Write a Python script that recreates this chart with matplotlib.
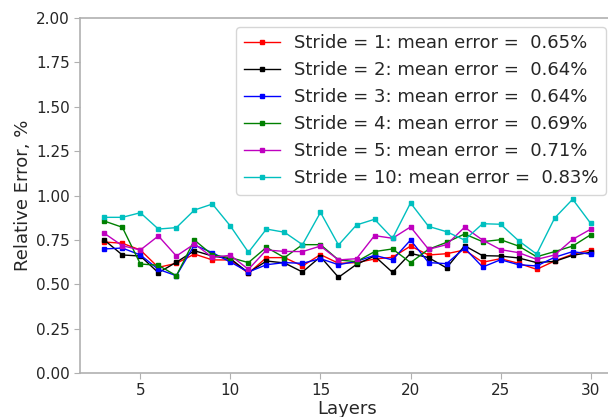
import numpy as np
import matplotlib
matplotlib.use("Agg")
import matplotlib.pyplot as plt

layers = list(range(3, 31))

err_s1 = [0.738, 0.731, 0.693, 0.595, 0.618, 0.670, 0.637, 0.637, 0.562, 0.650,
          0.650, 0.603, 0.667, 0.618, 0.622, 0.642, 0.652, 0.715, 0.665, 0.672,
          0.693, 0.624, 0.644, 0.618, 0.584, 0.631, 0.669, 0.693]
err_s2 = [0.749, 0.665, 0.659, 0.565, 0.624, 0.689, 0.659, 0.644, 0.565, 0.631,
          0.620, 0.569, 0.655, 0.539, 0.612, 0.659, 0.567, 0.674, 0.650, 0.592,
          0.717, 0.661, 0.659, 0.648, 0.622, 0.629, 0.663, 0.680]
err_s3 = [0.699, 0.704, 0.665, 0.584, 0.548, 0.721, 0.678, 0.625, 0.569, 0.610,
          0.622, 0.618, 0.644, 0.610, 0.629, 0.663, 0.637, 0.749, 0.622, 0.616,
          0.704, 0.597, 0.638, 0.610, 0.603, 0.652, 0.684, 0.669]
err_s4 = [0.856, 0.821, 0.614, 0.607, 0.548, 0.749, 0.665, 0.650, 0.622, 0.708,
          0.650, 0.723, 0.723, 0.637, 0.627, 0.684, 0.699, 0.622, 0.697, 0.736,
          0.783, 0.740, 0.751, 0.715, 0.655, 0.684, 0.715, 0.779]
err_s5 = [0.787, 0.717, 0.693, 0.772, 0.659, 0.727, 0.652, 0.663, 0.584, 0.693,
          0.685, 0.684, 0.715, 0.637, 0.644, 0.774, 0.759, 0.823, 0.697, 0.723,
          0.821, 0.749, 0.695, 0.678, 0.640, 0.665, 0.753, 0.810]
err_s10 = [0.877, 0.877, 0.903, 0.811, 0.819, 0.918, 0.952, 0.828, 0.680, 0.811,
           0.793, 0.723, 0.905, 0.721, 0.834, 0.866, 0.759, 0.958, 0.826, 0.796,
           0.749, 0.841, 0.838, 0.745, 0.670, 0.873, 0.979, 0.843]

labels = ["Stride = 1: mean error =  0.65%",
          "Stride = 2: mean error =  0.64%",
          "Stride = 3: mean error =  0.64%",
          "Stride = 4: mean error =  0.69%",
          "Stride = 5: mean error =  0.71%",
          "Stride = 10: mean error =  0.83%"]
colors = ["r", "k", "b", "g", "m", "c"]
series = [err_s1, err_s2, err_s3, err_s4, err_s5, err_s10]

txtColor = "#262626"
spineColor = "#b0b0b0"

fig = plt.figure(figsize=(6.08, 4.17), dpi=100)
ax = fig.add_axes([80 / 608, 1 - 373 / 417, 535 / 608, 355 / 417])

for vals, c, lab in zip(series, colors, labels):
    ax.plot(layers, vals, color=c, marker="s", markersize=3.5, linewidth=1.0, label=lab)

ax.set_ylim(0, 2.0)
ax.set_yticks(np.arange(0, 2.01, 0.25))
ax.set_xticks([5, 10, 15, 20, 25, 30])
ax.set_xlabel("Layers", fontsize=13, color=txtColor, labelpad=1)
ax.set_ylabel("Relative Error, %", fontsize=13, color=txtColor, labelpad=3)
ax.tick_params(labelsize=11, labelcolor=txtColor, color=spineColor, length=4)
for s in ax.spines.values():
    s.set_color(spineColor)
    s.set_linewidth(1.2)
ax.spines["right"].set_visible(False)

leg = ax.legend(loc="upper right", fontsize=13)
for t in leg.get_texts():
    t.set_color(txtColor)

fig.savefig("out.png", dpi=100)
